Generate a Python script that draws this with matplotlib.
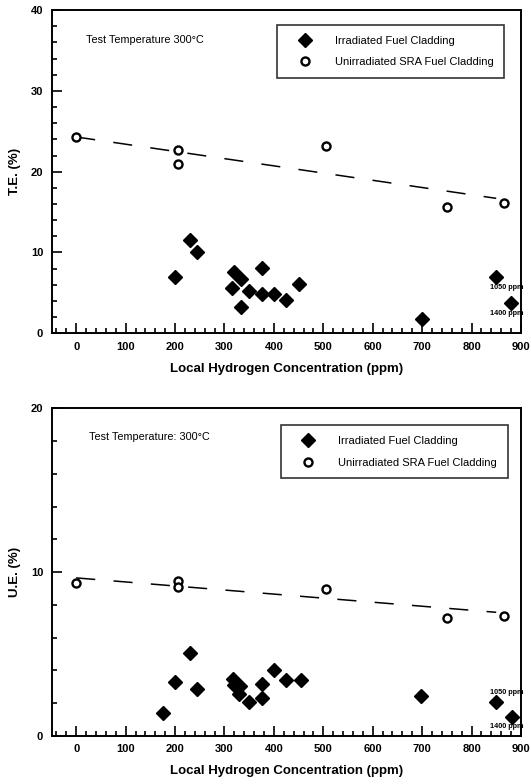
import matplotlib
matplotlib.use("Agg")
import matplotlib.pyplot as plt
from matplotlib.ticker import MultipleLocator

plt.rcParams["font.family"] = ["Liberation Sans", "DejaVu Sans"]

# ------------------------------------------------------------------
# data
# ------------------------------------------------------------------
# unirradiated SRA cladding (open circles)
unirr_h = [0, 205, 205, 505, 750, 865]
unirr_te = [24.3, 22.7, 20.9, 23.2, 15.6, 16.1]
unirr_h_ue = [0, 205, 205, 505, 750, 865]
unirr_ue = [9.35, 9.45, 9.1, 8.95, 7.2, 7.3]

# irradiated cladding (filled diamonds)
irr_h_te = [200, 230, 245, 315, 320, 333, 333, 350, 375, 375, 400, 425, 450, 700, 850, 880]
irr_te = [6.9, 11.6, 10.0, 5.6, 7.6, 6.7, 3.2, 5.2, 8.1, 4.8, 4.8, 4.1, 6.1, 1.8, 7.0, 3.7]
irr_h_ue = [175, 200, 230, 245, 317, 320, 332, 330, 350, 375, 375, 400, 425, 455, 697, 850, 882]
irr_ue = [1.4, 3.3, 5.05, 2.9, 3.5, 3.1, 3.05, 2.55, 2.05, 3.2, 2.3, 4.0, 3.4, 3.4, 2.45, 2.05, 1.15]

# dashed trend line through the unirradiated data
fit_h = [0, 850]
fit_te = [24.3, 16.7]
fit_ue = [9.65, 7.55]

x_ticks = [0, 100, 200, 300, 400, 500, 600, 700, 800, 900]

# hydrogen content of the two off-scale specimens, written next to them
off_scale_labels = ["1050 ppm", "1400 ppm"]
te_label_y = [5.7, 2.5]
ue_label_y = [2.65, 0.6]

LEG_IRR = "Irradiated Fuel Cladding"
LEG_UNIRR = "Unirradiated SRA Fuel Cladding"


def draw_panel(ax, h_irr, v_irr, h_un, v_un, fit_v, ylim, ylabel, temp_text,
               temp_pos, leg_anchor, ann_y):
    ax.plot(fit_h, fit_v, color="black", lw=1.1, ls=(0, (12.5, 12)), zorder=1)
    ax.plot(h_irr, v_irr, ls="none", marker="D", ms=7, mfc="black",
            mec="black", label=LEG_IRR, zorder=3)
    ax.plot(h_un, v_un, ls="none", marker="o", ms=5.8, mfc="white",
            mec="black", mew=1.7, label=LEG_UNIRR, zorder=3)

    ax.set_xlim(-50, 900)
    ax.set_ylim(*ylim)
    ax.set_xticks(x_ticks)
    ax.xaxis.set_minor_locator(MultipleLocator(20))
    ax.yaxis.set_major_locator(MultipleLocator(10))
    ax.yaxis.set_minor_locator(MultipleLocator(2))
    ax.tick_params(which="both", direction="in", top=False, right=False,
                   width=1.2, labelsize=8)
    ax.tick_params(which="major", length=7, pad=6)
    ax.tick_params(which="minor", length=3.5)
    for lab in ax.get_xticklabels() + ax.get_yticklabels():
        lab.set_fontweight("bold")
    for sp in ax.spines.values():
        sp.set_linewidth(1.4)

    ax.set_xlabel("Local Hydrogen Concentration (ppm)", fontsize=9.5,
                  fontweight="bold", labelpad=8)
    ax.set_ylabel(ylabel, fontsize=9.5, fontweight="bold", labelpad=7)

    ax.text(temp_pos[0], temp_pos[1], temp_text, transform=ax.transAxes,
            fontsize=7.8, va="center", ha="left")

    leg = ax.legend(loc="upper right", bbox_to_anchor=leg_anchor,
                    fontsize=8, frameon=True, fancybox=False,
                    edgecolor="black", borderpad=0.95, handlelength=3.0,
                    handletextpad=1.2, labelspacing=1.05, borderaxespad=0)
    leg.get_frame().set_linewidth(1.2)

    for txt, y in zip(off_scale_labels, ann_y):
        ax.text(838, y, txt, fontsize=5.2, fontweight="bold", va="center",
                ha="left", clip_on=False)


fig = plt.figure(figsize=(5.31, 7.84), dpi=100)
ax1 = fig.add_axes([0.097, 0.575, 0.884, 0.412])
ax2 = fig.add_axes([0.097, 0.0612, 0.884, 0.418])

draw_panel(ax1, irr_h_te, irr_te, unirr_h, unirr_te, fit_te, (0, 40),
           "T.E. (%)", "Test Temperature 300\u00b0C", (0.073, 0.907),
           (0.964, 0.954), te_label_y)
draw_panel(ax2, irr_h_ue, irr_ue, unirr_h_ue, unirr_ue, fit_ue, (0, 20),
           "U.E. (%)", "Test Temperature: 300\u00b0C", (0.08, 0.913),
           (0.972, 0.948), ue_label_y)

fig.savefig("out.png", dpi=100)
